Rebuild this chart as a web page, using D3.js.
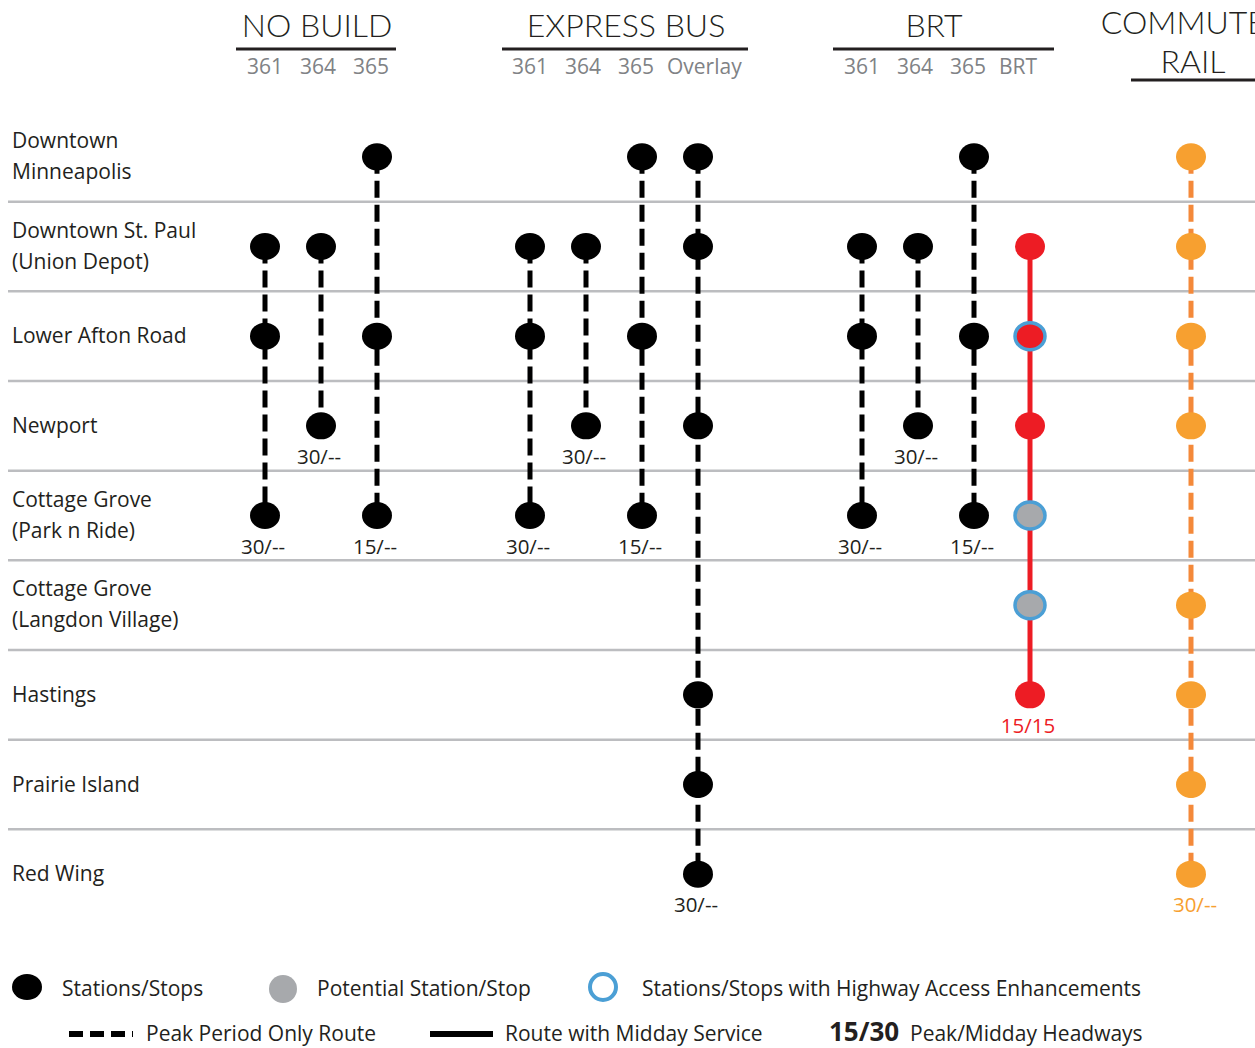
<!DOCTYPE html>
<html>
<head>
<meta charset="utf-8">
<script src="https://cdn.jsdelivr.net/npm/d3@7"></script>
<style>
  body { margin: 0; background: #fff; }
  text { font-family: "Open Sans", sans-serif; }
</style>
</head>
<body>
<div id="chart"></div>
<script>
// station rows, top to bottom
var stations = ["Downtown Minneapolis", "Downtown St. Paul (Union Depot)", "Lower Afton Road", "Newport",
  "Cottage Grove (Park n Ride)", "Cottage Grove (Langdon Village)", "Hastings", "Prairie Island", "Red Wing"];
var stationLines = [["Downtown", "Minneapolis"], ["Downtown St. Paul", "(Union Depot)"], ["Lower Afton Road"], ["Newport"],
  ["Cottage Grove", "(Park n Ride)"], ["Cottage Grove", "(Langdon Village)"], ["Hastings"], ["Prairie Island"], ["Red Wing"]];

// alternatives (column groups)
var alternatives = ["NO BUILD", "EXPRESS BUS", "BRT", "COMMUTER RAIL"];
var subLabels = [["361", "364", "365"], ["361", "364", "365", "Overlay"], ["361", "364", "365", "BRT"], []];

// routes: alternative, slot within group, stops (station index), service, mode, headway
var routeAlt = ["NO BUILD", "NO BUILD", "NO BUILD", "EXPRESS BUS", "EXPRESS BUS", "EXPRESS BUS", "EXPRESS BUS",
  "BRT", "BRT", "BRT", "BRT", "COMMUTER RAIL"];
var routeSlot = [0, 1, 2, 0, 1, 2, 3, 0, 1, 2, 3, 0];
var routeStops = [[1, 2, 4], [1, 3], [0, 2, 4], [1, 2, 4], [1, 3], [0, 2, 4], [0, 1, 3, 6, 7, 8],
  [1, 2, 4], [1, 3], [0, 2, 4], [1, 2, 3, 4, 5, 6], [0, 1, 2, 3, 5, 6, 7, 8]];
var routeService = ["peak", "peak", "peak", "peak", "peak", "peak", "peak", "peak", "peak", "peak", "midday", "peak"];
var routeMode = ["bus", "bus", "bus", "bus", "bus", "bus", "bus", "bus", "bus", "bus", "brt", "rail"];
var routeHeadway = ["30/--", "30/--", "15/--", "30/--", "30/--", "15/--", "30/--", "30/--", "30/--", "15/--", "15/15", "30/--"];

// BRT stop attributes (station index)
var brtPotential = [4, 5];
var brtHighway = [2, 4, 5];

var legendRow1 = ["Stations/Stops", "Potential Station/Stop", "Stations/Stops with Highway  Access Enhancements"];
var legendRow2 = ["Peak Period Only Route", "Route with Midday Service", "Peak/Midday Headways"];

var svgWidth = 1255, svgHeight = 1048;

var svg = d3.select("#chart").append("svg")
  .attr("width", svgWidth)
  .attr("height", svgHeight);

// scales
var yScale = d3.scaleBand().domain(d3.range(stations.length)).range([112, 919]).padding(0);
var rowY = i => yScale(i) + yScale.bandwidth() / 2;

var groupX = d3.scaleOrdinal().domain(alternatives).range([265, 530, 862, 1191]);
var slotStep = 56;
var headCenter = d3.scaleOrdinal().domain(alternatives).range([317, 626, 934, 1193]);
var ruleSpan = d3.scaleOrdinal().domain(alternatives).range([[236, 396], [502, 748], [833, 1054], [1131, 1260]]);

var modeColor = d3.scaleOrdinal().domain(["bus", "brt", "rail"]).range(["#000000", "#ed1c24", "#f7a030"]);
var modeLine = d3.scaleOrdinal().domain(["bus", "brt", "rail"]).range(["#000000", "#ed1c24", "#f4893a"]);
var textColor = d3.scaleOrdinal().domain(["bus", "brt", "rail"]).range(["#231f20", "#ed1c24", "#f7a030"]);

var routes = routeAlt.map((a, i) => ({
  alt: a, slot: routeSlot[i], stops: routeStops[i], service: routeService[i],
  mode: routeMode[i], headway: routeHeadway[i]
}));
var routeX = r => groupX(r.alt) + r.slot * slotStep;

// row separators
svg.append("g").selectAll("line")
  .data(d3.range(1, stations.length))
  .enter().append("line")
  .attr("x1", 8).attr("x2", svgWidth)
  .attr("y1", d => yScale(d)).attr("y2", d => yScale(d))
  .attr("stroke", "#bcbdc0").attr("stroke-width", 2.5);

// station labels
var labels = svg.append("g").selectAll("text")
  .data(stationLines)
  .enter().append("text")
  .attr("x", 12)
  .attr("font-size", 21)
  .attr("fill", "#231f20");
labels.each(function(lines, i) {
  var t = d3.select(this);
  lines.forEach(function(l, j) {
    var off = lines.length === 1 ? 7 : (j === 0 ? -9 : 22);
    t.append("tspan").attr("x", 12).attr("y", rowY(i) + off).text(l);
  });
});

// headers
var head = svg.append("g");
alternatives.forEach(function(a, gi) {
  if (a === "COMMUTER RAIL") {
    head.append("text").attr("x", headCenter(a)).attr("y", 34).attr("text-anchor", "middle")
      .style("font-family", "Lato").style("font-weight", 300).attr("font-size", 32).attr("fill", "#231f20").text("COMMUTER");
    head.append("text").attr("x", headCenter(a)).attr("y", 73).attr("text-anchor", "middle")
      .style("font-family", "Lato").style("font-weight", 300).attr("font-size", 32).attr("fill", "#231f20").text("RAIL");
    head.append("line").attr("x1", ruleSpan(a)[0]).attr("x2", ruleSpan(a)[1]).attr("y1", 80).attr("y2", 80)
      .attr("stroke", "#231f20").attr("stroke-width", 3);
  } else {
    head.append("text").attr("x", headCenter(a)).attr("y", 37).attr("text-anchor", "middle")
      .style("font-family", "Lato").style("font-weight", 300).attr("font-size", 32).attr("fill", "#231f20").text(a);
    head.append("line").attr("x1", ruleSpan(a)[0]).attr("x2", ruleSpan(a)[1]).attr("y1", 49).attr("y2", 49)
      .attr("stroke", "#231f20").attr("stroke-width", 3);
  }
  subLabels[gi].forEach(function(s, i) {
    head.append("text")
      .attr("x", groupX(a) - 18 + i * 53 + (i === 3 ? -4 : 0))
      .attr("y", 74)
      .attr("font-size", 21)
      .attr("fill", "#808285")
      .text(s);
  });
});

// route lines
svg.append("g").selectAll("line")
  .data(routes)
  .enter().append("line")
  .attr("x1", routeX).attr("x2", routeX)
  .attr("y1", d => rowY(d3.min(d.stops)))
  .attr("y2", d => rowY(d3.max(d.stops)))
  .attr("stroke", d => modeLine(d.mode))
  .attr("stroke-width", 5)
  .attr("stroke-dasharray", d => d.service === "peak" ? "17,7" : null);

// stops
var stops = [];
routes.forEach(function(r) {
  r.stops.forEach(function(s) {
    var potential = r.mode === "brt" && brtPotential.indexOf(s) >= 0;
    var highway = r.mode === "brt" && brtHighway.indexOf(s) >= 0;
    stops.push({ route: r, station: s, potential: potential, highway: highway });
  });
});
svg.append("g").selectAll("ellipse")
  .data(stops)
  .enter().append("ellipse")
  .attr("cx", d => routeX(d.route))
  .attr("cy", d => rowY(d.station))
  .attr("rx", 15).attr("ry", 13.5)
  .attr("fill", d => d.potential ? "#a7a9ac" : modeColor(d.route.mode))
  .attr("stroke", d => d.highway ? "#4b9fd5" : "none")
  .attr("stroke-width", 3.5);

// headway labels
svg.append("g").selectAll("text")
  .data(routes)
  .enter().append("text")
  .attr("x", d => routeX(d) - 2 + (d.mode === "rail" ? 6 : 0))
  .attr("y", d => rowY(d3.max(d.stops)) + 38)
  .attr("text-anchor", "middle")
  .attr("font-size", 20.5)
  .attr("fill", d => textColor(d.mode))
  .text(d => d.headway);

// legend
var legend = svg.append("g");
legend.append("ellipse").attr("cx", 27).attr("cy", 987).attr("rx", 15).attr("ry", 13).attr("fill", "#000");
legend.append("circle").attr("cx", 283).attr("cy", 989).attr("r", 14).attr("fill", "#a7a9ac");
legend.append("circle").attr("cx", 603).attr("cy", 987).attr("r", 13).attr("fill", "none")
  .attr("stroke", "#4b9fd5").attr("stroke-width", 4);
[62, 317, 642].forEach(function(x, i) {
  legend.append("text").attr("x", x).attr("y", 996).attr("font-size", 21).attr("fill", "#231f20").text(legendRow1[i]);
});
legend.append("line").attr("x1", 69).attr("x2", 133).attr("y1", 1034).attr("y2", 1034)
  .attr("stroke", "#000").attr("stroke-width", 6).attr("stroke-dasharray", "14,7");
legend.append("line").attr("x1", 430).attr("x2", 493).attr("y1", 1034).attr("y2", 1034)
  .attr("stroke", "#000").attr("stroke-width", 6);
legend.append("text").attr("x", 829).attr("y", 1041).attr("font-size", 26).attr("font-weight", 700)
  .attr("fill", "#231f20").text("15/30");
[146, 505, 910].forEach(function(x, i) {
  legend.append("text").attr("x", x).attr("y", 1041).attr("font-size", 21).attr("fill", "#231f20").text(legendRow2[i]);
});
</script>
</body>
</html>
